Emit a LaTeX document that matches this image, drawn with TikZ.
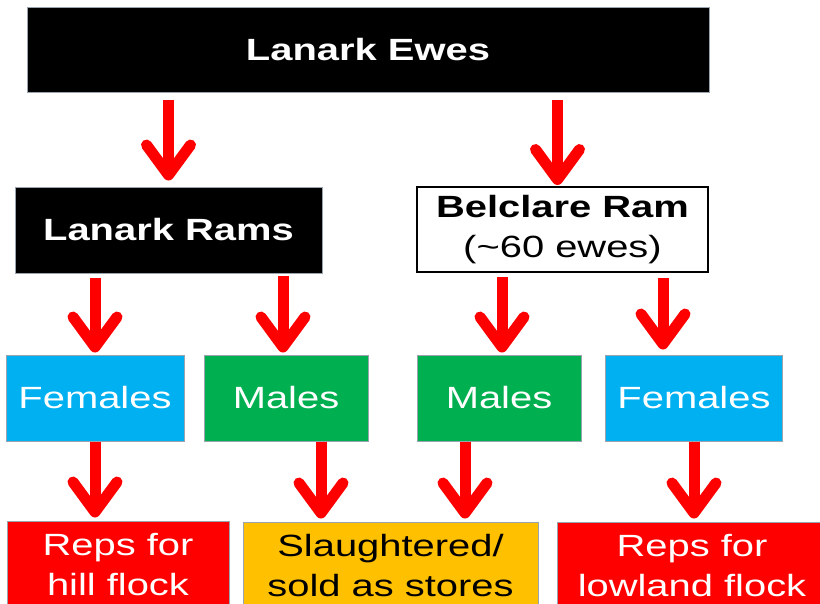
\documentclass[tikz,border=0pt]{standalone}
\usepackage{fontspec}
\setmainfont{Liberation Sans}[FakeStretch=1.3]
\usetikzlibrary{arrows.meta}

\definecolor{boxcyan}{HTML}{00B0F0}
\definecolor{boxgreen}{HTML}{00B050}
\definecolor{boxred}{HTML}{FF0000}
\definecolor{boxorange}{HTML}{FFC000}
\definecolor{boxedge}{HTML}{9AA4AE}

\tikzset{
  box/.style={draw=boxedge, line width=1pt, text=white, inner sep=0pt, align=center,
    font=\fontsize{30.7}{40}\selectfont},
  darkbox/.style={box, fill=black, font=\fontsize{30.7}{40}\selectfont\bfseries},
  arr/.style={draw=boxred, line width=11pt, -{Straight Barb[length=30pt,width=44pt,round]}}
}

\begin{document}
\begin{tikzpicture}[x=1pt,y=-1pt]
\clip (0,0) rectangle (820,603);
\fill[white] (0,0) rectangle (820,603);

\node[darkbox, minimum width=682pt, minimum height=85pt] (ewes) at (368,49.5) {Lanark Ewes};
\node[darkbox, minimum width=307pt, minimum height=86pt] (rams) at (168.5,230) {Lanark Rams};
\node[box, draw=black, line width=2pt, fill=white, text=black, minimum width=291pt, minimum height=85pt]
  (bel) at (562.5,229.5) {\textbf{Belclare Ram}\\(\char`~60 ewes)};

\node[box, fill=boxcyan, minimum width=178pt, minimum height=86pt] (femA) at (95,398) {Females};
\node[box, fill=boxgreen, minimum width=164pt, minimum height=86pt] (malA) at (286,398) {Males};
\node[box, fill=boxgreen, minimum width=164pt, minimum height=86pt] (malB) at (499,398) {Males};
\node[box, fill=boxcyan, minimum width=177pt, minimum height=86pt] (femB) at (694,398) {Females};

\node[box, fill=boxred, minimum width=222pt, minimum height=88pt] (hill) at (118,565) {Reps for\\hill flock};
\node[box, fill=boxorange, text=black, minimum width=295pt, minimum height=88pt] (sold) at (390.5,566) {Slaughtered/\\sold as stores};
\node[box, fill=boxred, minimum width=270pt, minimum height=88pt] (low) at (692,566) {Reps for\\lowland flock};

\draw[arr] ([yshift=-7pt]ewes.south -| rams.north) -- ([yshift=6pt]rams.north);
\draw[arr] ([xshift=-5pt,yshift=-7pt]ewes.south -| bel.north) -- ([xshift=-5pt,yshift=1pt]bel.north);

\draw[arr] ([yshift=-4pt]rams.south -| femA.north) -- ([yshift=2pt]femA.north);
\draw[arr] ([xshift=-3pt,yshift=-2pt]rams.south -| malA.north) -- ([xshift=-3pt,yshift=2pt]malA.north);
\draw[arr] ([xshift=3pt,yshift=-4pt]bel.south -| malB.north) -- ([xshift=3pt,yshift=2pt]malB.north);
\draw[arr] ([xshift=-31pt,yshift=-5pt]bel.south -| femB.north) -- ([xshift=-31pt,yshift=5pt]femB.north);

\draw[arr] (femA.south) -- ([yshift=3pt]femA.south |- hill.north);
\draw[arr] ([xshift=35pt]malA.south) -- ([xshift=35pt,yshift=3pt]malA.south |- sold.north);
\draw[arr] ([xshift=-34pt]malB.south) -- ([xshift=-34pt,yshift=3pt]malB.south |- sold.north);
\draw[arr] (femB.south) -- ([yshift=3pt]femB.south |- low.north);
\end{tikzpicture}
\end{document}
